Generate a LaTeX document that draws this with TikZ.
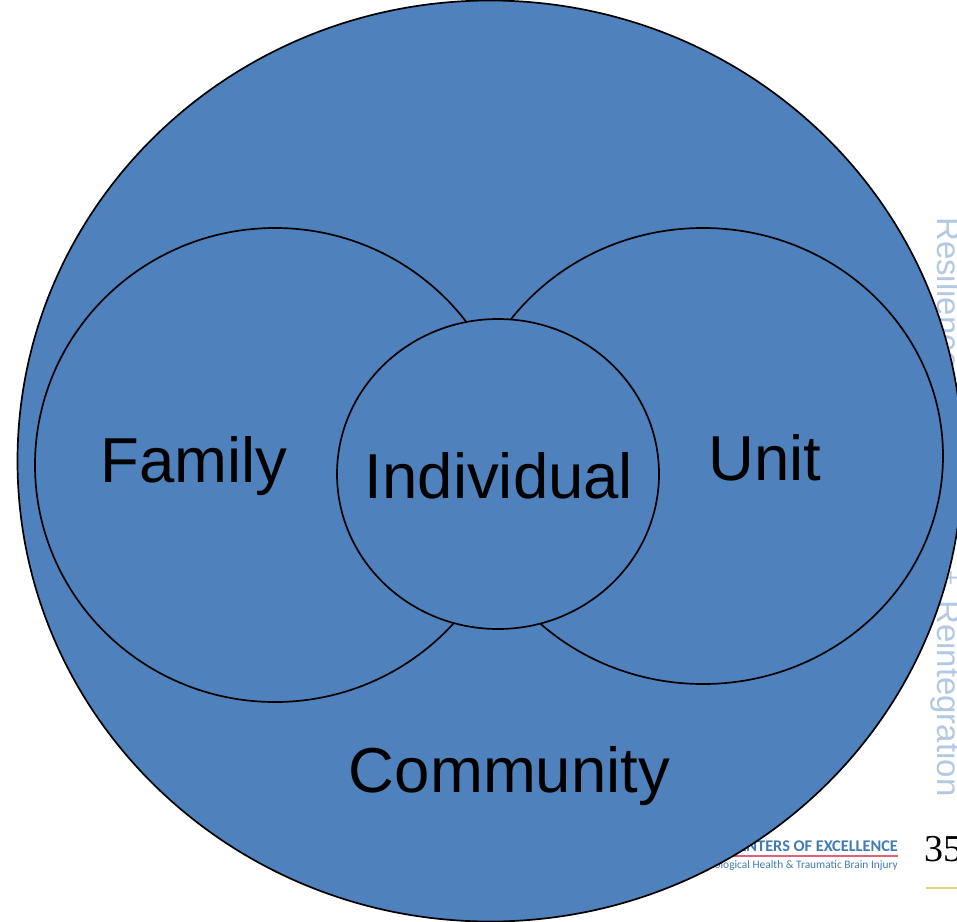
\documentclass[tikz,border=0pt]{standalone}
\usepackage{fontspec}
\setmainfont{Liberation Sans}
\newfontfamily\logofont{Carlito}
\newfontfamily\pagefont{Liberation Serif}
\usetikzlibrary{shapes.geometric}
\definecolor{ringblue}{HTML}{4F81BD}
\definecolor{sidetext}{HTML}{B3C8E2}
\definecolor{logoblue}{HTML}{3F7CB0}
\definecolor{logored}{HTML}{DC6478}
\definecolor{pagerule}{HTML}{E9D27F}
\begin{document}
\begin{tikzpicture}[x=1pt,y=-1pt,
						ring/.style={ellipse,draw=black,line width=1.7pt,fill=ringblue,inner sep=0pt},
						ringlabel/.style={font=\fontsize{63.5}{70}\selectfont,inner sep=0pt},
						sidelabel/.style={font=\fontsize{33}{36}\selectfont,text=sidetext,rotate=-90,inner sep=0pt,anchor=base west}]

		\useasboundingbox (0,0) rectangle (957,921);

		% things behind the big circle
		\node [sidelabel] (resilience) at (937,217) {Resilience};
		\node [sidelabel] (star) at (942,570) {\fontsize{26}{30}\selectfont +};
		\node [sidelabel] (reintegration) at (937,600) {Reintegration};
		\node [anchor=base east,inner sep=0pt,text=logoblue,font=\logofont\bfseries\fontsize{16.3}{18}\selectfont] (excellence) at (898,851) {CENTERS OF EXCELLENCE};
		\node [anchor=base east,inner sep=0pt,text=logoblue,font=\logofont\fontsize{11.4}{12}\selectfont] (injury) at (898,868) {Psychological Health \& Traumatic Brain Injury};
		\node [anchor=base west,inner sep=0pt,font=\pagefont\fontsize{38}{40}\selectfont] (page) at (924,861) {35};
		\coordinate (redl) at (700,856);
		\coordinate (redr) at (898,856);
		\coordinate (goldl) at (926,888);
		\coordinate (goldr) at (957,888);
		\draw [logored,line width=2.4pt] (redl) -- (redr);
		\draw [pagerule,line width=1.2pt] (goldl) -- (goldr);

		\node [ring,minimum width=945pt,minimum height=921pt] (community) at (490,461) {};
		\node [ring,minimum width=480pt,minimum height=474pt] (family) at (275,465) {};
		\node [ring,minimum width=480pt,minimum height=456pt] (unit) at (703,456) {};
		\node [ring,minimum width=322pt,minimum height=310pt] (individual) at (498,474) {};

		\node [ringlabel] (familytext) at (194,466) {Family};
		\node [ringlabel] (unittext) at (765,458) {Unit};
		\node [ringlabel] (individualtext) at (499,476) {Individual};
		\node [ringlabel] (communitytext) at (509.5,776) {Community};

	\end{tikzpicture}
\end{document}
